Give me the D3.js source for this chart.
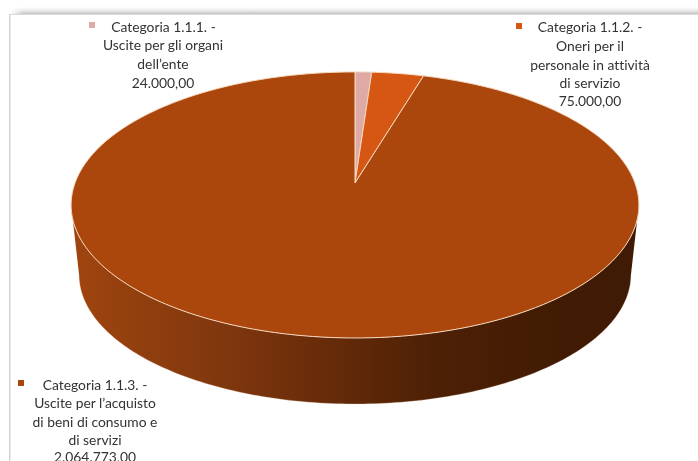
<!DOCTYPE html>
<html><head><meta charset="utf-8">
<style>html,body{margin:0;padding:0;background:#fff;overflow:hidden}svg{display:block}
text{font-family:Lato,"Open Sans",sans-serif;font-size:13.85px;fill:#333;text-anchor:middle;font-variant-ligatures:none;filter:blur(0.3px)}</style>
<script src="https://cdn.jsdelivr.net/npm/d3@7"></script></head><body>
<svg id="c" width="698" height="461"></svg>
<script>
const categories = ["Categoria 1.1.1.", "Categoria 1.1.2.", "Categoria 1.1.3."];
const values = [24000, 75000, 2064773];
const colors = ["#DFA9A6", "#D65713", "#AB470D"];
const labelLines = [
  ["Categoria 1.1.1. -", "Uscite per gli organi", "dell’ente", "24.000,00"],
  ["Categoria 1.1.2. -", "Oneri per il", "personale in attività", "di servizio", "75.000,00"],
  ["Categoria 1.1.3. -", "Uscite per l’acquisto", "di beni di consumo e", "di servizi", "2.064.773,00"]
];
const labelBoxes = [
  {x:163, ys:[27,45,64,83], kx:92, ky:25, tx:163.5},
  {x:590, ys:[27,46,65,83,101], kx:519, ky:26, tx:590},
  {x:95,  ys:[385,403,422,440,457], kx:21, ky:383, tx:95}
];

const svg = d3.select("#c");
const defs = svg.append("defs");

// Perspective projection of the unit disc
const apex = {x:355, y:183}, a = 280, b = 129.4, c = 0.165;
const top3 = (t, r=1) => {
  const u = r*Math.sin(t), v = r*Math.cos(t), w = 1 + c*v;
  return [apex.x + a*u/w, apex.y - b*v/w];
};
// lower rim: shrink toward the vertical vanishing point
const vp = {x:355, y:2696}, s = 0.972;
const bot3 = t => { const p = top3(t); return [vp.x + s*(p[0]-vp.x), vp.y + s*(p[1]-vp.y)]; };

const pie = d3.pie().sort(null).value(d => d);
const arcs = pie(values);
const line = d3.line();
const samples = (t0, t1, n=Math.max(4, Math.ceil((t1-t0)*60))) => d3.range(n+1).map(i => t0 + (t1-t0)*i/n);

// page frame
const sh = defs.append("linearGradient").attr("id","sh").attr("x1",0).attr("x2",0).attr("y1",0).attr("y2",1);
[[0,"#fff"],[0.45,"#ededed"],[1,"#c4c4c4"]].forEach(d=>sh.append("stop").attr("offset",d[0]).attr("stop-color",d[1]));
const shx = defs.append("linearGradient").attr("id","shm").attr("x1",0).attr("x2",1).attr("y1",0).attr("y2",0);
[[0,0],[0.02,1],[1,1]].forEach(d=>shx.append("stop").attr("offset",d[0]).attr("stop-color","#fff").attr("stop-opacity",d[1]));
defs.append("mask").attr("id","m").append("rect").attr("x",10).attr("y",0).attr("width",688).attr("height",20).attr("fill","url(#shm)");
svg.append("rect").attr("x",10).attr("y",7).attr("width",688).attr("height",7).attr("fill","url(#sh)").attr("mask","url(#m)");
svg.append("rect").attr("x",9).attr("y",14).attr("width",689).attr("height",1).attr("fill","#d9d9d9");
svg.append("rect").attr("x",9).attr("y",14).attr("width",1.4).attr("height",447).attr("fill","#d2d2d2");

// side wall
const grad = defs.append("linearGradient").attr("id","side").attr("gradientUnits","userSpaceOnUse")
  .attr("x1",71).attr("x2",639).attr("y1",0).attr("y2",0);
[[0,"#A0450F"],[0.25,"#82380E"],[0.5,"#602808"],[0.65,"#4C2005"],[0.85,"#421B04"],[1,"#3F1A04"]]
  .forEach(d=>grad.append("stop").attr("offset",d[0]).attr("stop-color",d[1]));
const t0 = Math.acos(-c), t1 = 2*Math.PI - t0;
arcs.forEach(d => {
  const st = Math.max(d.startAngle, t0), en = Math.min(d.endAngle, t1);
  if (en <= st) return;
  const ts = samples(st, en);
  const pts = ts.map(t=>top3(t)).concat(ts.slice().reverse().map(bot3));
  svg.append("path").attr("d", line(pts)+"Z").attr("fill","url(#side)");
  svg.append("path").attr("d", line(ts.map(bot3))).attr("fill","none").attr("stroke","#f3dcc8").attr("stroke-width",0.5).attr("stroke-opacity",0.6);
});

// top face
svg.append("g").selectAll("path").data(arcs).join("path")
  .attr("d", d => line([[apex.x,apex.y], ...samples(d.startAngle,d.endAngle).map(t=>top3(t))])+"Z")
  .attr("fill",(d,i)=>colors[i])
  .attr("stroke","#F6D9BE").attr("stroke-width",1).attr("stroke-linejoin","round");

// labels
labelLines.forEach((lines,i) => {
  const bx = labelBoxes[i];
  lines.forEach((l,j) => svg.append("text").attr("x", j===0 ? bx.tx : bx.x).attr("y", bx.ys[j]).attr("dy","0.35em").text(l));
  svg.append("rect").attr("x",bx.kx-3).attr("y",bx.ky-3).attr("width",6).attr("height",6).attr("fill",colors[i]);
});
</script></body></html>
